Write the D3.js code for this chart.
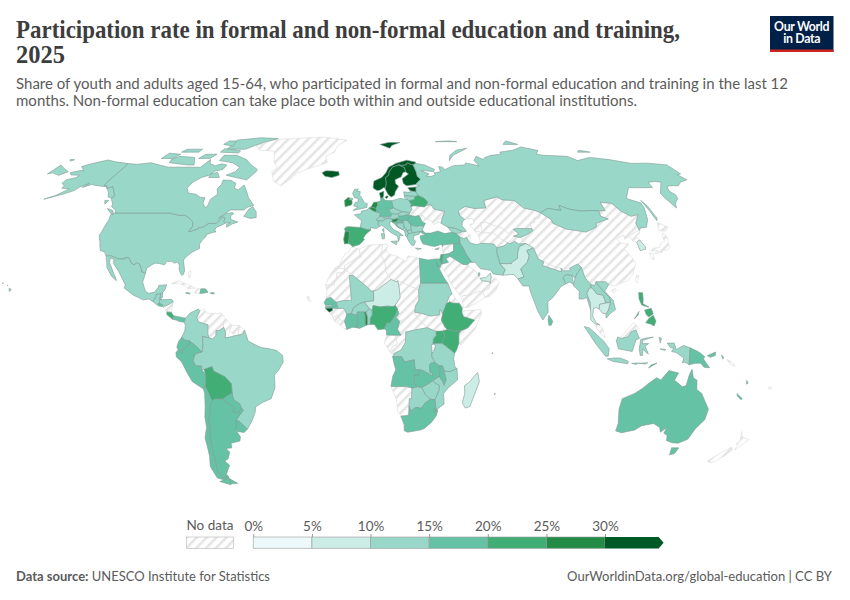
<!DOCTYPE html>
<html lang="en">
  <head>
    <meta charset="UTF-8" />
    <title>Participation rate in formal and non-formal education and training</title>
    <script src="https://cdn.jsdelivr.net/npm/d3@7"></script>
    <style>
      body { margin: 0; background: #fff; }
      text { font-family: Lato, sans-serif; }
    </style>
  </head>
  <body>
    <div id="chart"></div>
    <script>
      // countries with data, rate in % (colour bin only, so rough)
      const countries = ["Canada","United States","Mexico","Guatemala","Belize","Honduras","El Salvador","Costa Rica","Panama","Jamaica","Dominican Republic","Puerto Rico",
        "Colombia","Ecuador","Peru","Bolivia","Paraguay","Uruguay","Argentina","Chile","Brazil",
        "Egypt","Mali","Senegal","Guinea-Bissau","Cote d'Ivoire","Burkina Faso","Ghana","Togo","Benin","Niger","Nigeria","Cameroon","Sudan","Ethiopia","Kenya","Uganda","DR Congo","Angola","Zambia","Tanzania","Malawi","Mozambique","Zimbabwe","Botswana","South Africa","Eswatini","Madagascar","Seychelles","Mauritius",
        "Norway","Sweden","Finland","Denmark","Iceland","United Kingdom","Ireland","France","Spain","Portugal","Netherlands","Belgium","Germany","Switzerland","Austria","Italy","Poland","Czechia","Slovakia","Hungary","Slovenia","Croatia","Bosnia","Serbia","Montenegro","North Macedonia","Albania","Romania","Bulgaria","Greece","Belarus","Lithuania","Latvia","Estonia","Russia","Turkey","Cyprus",
        "Kyrgyzstan","Afghanistan","Pakistan","Iran","Iraq","Jordan","Israel","UAE","Qatar","Georgia","Mongolia","India","Bangladesh","Myanmar","Thailand","Laos","Vietnam","Cambodia","Indonesia","Philippines","South Korea","Sri Lanka","Australia","Papua New Guinea","Timor","Vanuatu","New Caledonia"];
      const rates = [12,12,12,14,12,13,17,22,17,17,17,17,
        13,17,17,22,17,17,17,17,12,
        17,12,17,32,17,12,17,27,12,8,22,17,12,22,22,22,12,17,17,12,17,12,12,12,17,17,8,12,12,
        32,32,32,32,32,12,27,12,22,27,27,27,17,12,12,13,12,12,12,17,27,17,13,13,13,13,12,17,12,13,20,13,13,32,12,17,12,
        12,12,8,12,17,17,22,8,12,12,12,12,12,12,8,12,12,8,12,22,8,17,17,17,20,17,17];

      // legend
      const binEdges = [5, 10, 15, 20, 25, 30];
      const binColors = ["#edf8fb", "#ccece6", "#99d8c9", "#66c2a4", "#41ae76", "#238b45", "#005824"];
      const tickValues = [0, 5, 10, 15, 20, 25, 30];

      // Robinson table, every 5 degrees of latitude
      const robLat = d3.range(0, 95, 5);
      const robX = [1,.9986,.9954,.99,.9822,.973,.96,.9427,.9216,.8962,.8679,.835,.7986,.7597,.7186,.6732,.6213,.5722,.5322];
      const robY = [0,.062,.124,.186,.248,.31,.372,.434,.4958,.5571,.6176,.6769,.7346,.7903,.8435,.8936,.9394,.9761,1];

      // outlines as lon,lat, a country can appear more than once
      const outlines = [
        ["Greenland","-73,78.3 -68,76 -58,75.5 -54,70 -51,68 -53,66 -50,62 -45,60 -42,62 -38,65.5 -30,68 -22,70 -24,73 -19,75 -18,78 -12,81.5 -30,83.5 -60,82 -66,81"],
        ["Cuba","-84.9,21.9 -82,23 -77,21.3 -74.2,20.2 -77.7,19.9 -78,20.7 -82,22"],
        ["Haiti","-74.4,18.4 -72,18.1 -71.7,19.9 -73.3,19.9"],
        ["Bahamas","-78,26.6 -77,26.5 -77.5,24 -78,24.5"],
        ["Nicaragua","-87.5,13 -85,14 -83.2,15 -83.7,11 -85.7,11.1"],
        ["Venezuela","-71.3,11.5 -69.8,12.2 -68,10.6 -64,10.5 -62,10.7 -60,8.5 -61,7 -60.7,5.2 -62.7,4 -64,4 -64,2 -65.5,0.8 -67,1.2 -67.5,2.8 -67.5,6.2 -71.8,7.3 -72.5,9"],
        ["Guyana","-60,8.5 -57.2,6 -58,4 -58.8,1.3 -60,1.3 -59.8,3 -60.7,5.2 -61,7"],
        ["Suriname","-57.2,6 -54,5.9 -54.3,2.3 -56,2 -58,4"],
        ["French Guiana","-54,5.9 -51.7,4.2 -52.5,2.5 -54.3,2.3"],
        ["Morocco","-5.9,35.8 -2.2,35.1 -1.7,33 -1.2,32.2 -3.6,31.5 -8.7,28.7 -8.7,27.7 -13.2,27.7 -11,29 -9.8,31.5 -8.5,33.3 -6.8,34"],
        ["Western Sahara","-13.2,27.7 -8.7,27.7 -8.7,26 -12,26 -12,23.5 -13,22.8 -13,21.3 -17,21.3 -16,23.5 -14.5,26"],
        ["Algeria","-2.2,35.1 2,36.6 8.6,36.9 8.3,35 7.5,33 9.5,30.2 9.7,26.5 11.9,23.5 5.8,19.5 4.2,19.1 3.2,19.1 1.2,20.8 -4.8,25 -8.7,27.3 -8.7,28.7 -3.6,31.5 -1.2,32.2 -1.7,33"],
        ["Tunisia","8.6,36.9 11,37 10.2,34.3 11.5,33.2 9.5,30.2 7.5,33 8.3,35"],
        ["Libya","11.5,33.2 15,32.3 19,30.3 20,32.5 25,31.6 25,22 24,19.5 15,23 14.2,22.6 11.9,23.5 9.7,26.5 9.5,30.2"],
        ["Mauritania","-17,21.3 -13,21.3 -13,22.8 -12,23.5 -12,26 -8.7,26 -8.7,27.3 -4.8,25 -6.5,25 -5.5,15.5 -9.4,15.4 -12.2,14.8 -14.5,16.6 -16.5,16.1 -16.2,19"],
        ["Gambia","-16.8,13.6 -14,13.7 -14,13.2 -16.7,13.1"],
        ["Guinea","-13.7,12.6 -11.4,12.4 -9,12.5 -8.2,11.5 -7.5,10.2 -8,8.5 -9.5,7.4 -10.5,8.3 -11.2,10 -13.3,9 -15,11 -13.7,11.7"],
        ["Sierra Leone","-13.3,9 -11.2,10 -10.5,8.3 -11.5,7 -12.8,7.5"],
        ["Liberia","-11.5,7 -10.5,8.3 -9.5,7.4 -8.5,7.6 -7.5,5 -7.5,4.4 -9,5"],
        ["Chad","15,23 24,19.5 24,15.7 22.5,13.5 22,11 19,9 15.5,7.5 13.9,9 15.2,10.5 14.1,13 13.6,13.7 15.8,16.5 15.5,20"],
        ["Central African Republic","15.5,7.5 19,9 22,11 23,9 27.4,5.1 22,4.2 18.6,3.5 16,2.2 14.5,4.5"],
        ["South Sudan","22,11 25,10.5 27,10 29,9.5 32.7,10 33,12 34.2,10.5 33.5,8 35,5.3 33.9,3.8 31,3.7 27.4,5.1 23,9"],
        ["Eritrea","38.6,18 43,12.6 41.5,14.4 38.5,14.5 37.3,15 37.3,17"],
        ["Somalia","43.2,11.5 51,12 51,10.5 48,4.5 42,-1.6 41,-0.9 41,2.8 41.9,3.9 44.9,5 47.9,8 43.2,9.3 42.7,11"],
        ["Rwanda","29,-1.5 30.5,-1 30.9,-2.3 29.2,-2.8"],
        ["Burundi","29.2,-2.8 30.9,-2.3 30,-4.4 29.4,-4.4"],
        ["Congo","11.2,-4 12,-5 13.1,-4.7 16,-3.5 17.9,-0.5 18.1,3.5 16,2.2 13.3,2.2 14.4,-1 12,-2.5"],
        ["Gabon","9.8,2.3 13.3,2.2 14.4,-1 12,-2.5 11.2,-4 8.8,-0.8"],
        ["Namibia","11.8,-17.3 14,-17.4 18.5,-17.4 21.4,-18 21,-18 21,-22 20,-22 20,-24.8 20,-28.4 17,-28.6 15,-27 14.4,-22.5"],
        ["Cape Verde","-25,17 -24,16.8 -23.4,15 -24,15"],
        ["Ukraine","22.2,48.4 22.7,49.1 24,50.5 23.5,51.5 25,51.9 30.5,51.4 31.5,52.1 34,52.2 35,50.5 40,49.6 38.3,47.2 35,46.2 33.6,46 36.5,45.4 33.5,44.5 32.5,46 30.7,46.5 30,46.4 29,48 27,48 24.9,47.7 22.9,48"],
        ["Moldova","27,48 28.2,45.5 30,46.4 29,48"],
        ["Kazakhstan","47,50 51,51.6 55,50.8 61,51 61.5,54 69,55.4 71,54.2 77,54 80,51 85,50 87.3,49.1 85.5,47 83,47 82.5,45.3 80,45 80,42.9 74,43 71,42.7 68,41 66,43 61,44.5 58.5,45.5 56,45 56,41.3 52.5,42 50.8,44.5 53,45 53,47 49,46.5 47,48"],
        ["Uzbekistan","56,45 58.5,45.5 61,44.5 66,43 68,41 71,42.7 73,40.8 71,40.3 68,38.3 66.5,37.4 64,38.9 61,41.2 56,41.3"],
        ["Turkmenistan","52.5,42 56,41.3 61,41.2 64,38.9 66.5,37.4 64.5,36.3 61,35.6 60,37 54,37.3 53.8,40"],
        ["Tajikistan","68,38.3 71,40.3 73,39.5 75,38.5 74.9,37.2 71.5,37 70,38 67.8,37.2"],
        ["Syria","36,36 36.7,36.7 42,37.2 41.3,37 41,34.4 38.8,33.4 36,33 35.8,35"],
        ["Saudi Arabia","34.9,29.5 35,29.4 38,30 37,31.5 39,32.3 44.5,29.2 46.5,29.1 48,28 50,26.5 50.8,24.7 52,23 55.2,22.7 55.7,22 55,20 52,19 49,18.6 46,17.3 43.3,17.4 42.7,16.5 39,21 37,25 35,28"],
        ["Yemen","42.7,16.5 43.3,17.4 46,17.3 49,18.6 52,19 53.1,16.7 48,14 45,12.8 43.3,12.7"],
        ["Oman","52,19 55,20 55.7,22 56.4,24.5 58.7,23.6 59.8,22.5 57.7,19 55,17 53.1,16.7"],
        ["Armenia","43.5,41.1 45,41.2 46.5,39 44.8,39.7"],
        ["Azerbaijan","45,41.2 46.5,41.8 48.5,41.9 50,40.3 49,37.5 48,39.5 46.5,39"],
        ["China","73.5,39.5 76,40.4 80,42 80,45 82.5,45.3 83,47 85.5,47 87.3,49.1 91,46.5 91,45 96,42.8 105,41.6 111,43.5 112,45 119,46.7 116,47.8 116.7,49.8 120,50 120.5,53.3 126,52.8 127.5,49.8 131,47.7 135,48.4 131,45 130.7,42.3 128,41.5 124.4,40 121.5,38.8 122,40.5 118,39 119,37.3 122.5,37 119.3,35 121.5,31.7 122,29.5 119.5,25.5 116.7,23 114,22.3 110.5,21 108,21.6 106.7,22.6 102.5,22.6 101.7,21.2 100,21.6 98,24 97.3,28 96,29.4 92,27.8 89,27.3 88.1,27.8 86,28 81,30.2 78.8,31.3 77.8,35.5 75,37"],
        ["China","108.7,19.3 110.5,20 111,19.5 109.5,18.2"],
        ["Nepal","80,28.8 81,30.2 86,28 88.1,27.8 88,26.4"],
        ["Malaysia","100.2,6.5 102,6.2 103.5,4 104.2,1.4 103,2 100.6,5"],
        ["Malaysia","109.6,1.5 111,1.5 114,4.5 116.7,7 119,5 117.6,4.2 115.5,3.5 114,1.5 111,1"],
        ["Taiwan","121,25 122,25 120.8,22 120.1,23"],
        ["North Korea","124.4,40 128,41.5 130.7,42.3 129.8,41 127.5,39.8 128.3,38.6 126.5,37.7 125,38"],
        ["Japan","131,34.3 133,35.5 136,35.7 137,37 139.5,38 140,40 141,41.3 142,39.5 141,38 140.8,35.8 138.8,34.8 136.8,34.5 135.5,33.6 134,34.5"],
        ["Japan","140,42 141.5,45.4 145.3,43.5 143,42"],
        ["Japan","130,33.5 131.8,33.5 131,31 130.2,31.3"],
        ["Japan","132.5,33.5 134.3,34.3 134,33.3"],
        ["New Zealand","172.7,-34.5 174.8,-36.8 178.4,-37.6 177,-39.5 175.3,-41.6 174.8,-39.8 173.8,-39.3 174.8,-38"],
        ["New Zealand","172.7,-40.5 174.2,-41.5 172.8,-43.8 171,-45 170.7,-46 168.5,-46.6 166.5,-46 168.3,-44"],
        ["Solomon Islands","157,-7 159.5,-8 161,-9.6 159,-9"],
        ["Fiji","177.3,-17.5 178.6,-17.7 178.3,-18.3 177.3,-18.2"],
        ["Lesotho","27,-29.6 29.2,-29 29.4,-29.9 28,-30.6"],

        ["United States","-124.7,48.4 -123,49 -95.2,49 -94.6,48.7 -92,48.3 -89.5,48 -88.4,48.3 -84.9,46.9 -84.5,46.5 -83.5,46 -82.5,45.3 -82.1,43.6 -82.5,42.6 -83.1,42.1 -82.7,41.7 -79,42.8 -79,43.3 -76.8,43.6 -75,44.9 -71.5,45 -70.8,45.4 -70,46.7 -69.2,47.4 -68.3,47.3 -67.8,47 -67.8,45.7 -67,44.9 -69,44 -70.3,43.6 -70.8,42.8 -70.7,42 -70,41.7 -71.5,41.4 -74,40.7 -74.2,39.6 -75.2,38.7 -75.9,37.2 -76,36.8 -75.5,35.3 -77,34.6 -78.5,33.9 -79.9,32.7 -81.2,31.6 -81.4,30.5 -80.6,28.5 -80,26.8 -80.3,25.4 -81,25.1 -81.8,26 -82.7,27.7 -82.8,29 -84,30.1 -85.3,29.7 -86.5,30.4 -89,30.4 -89.4,29.2 -90.5,29.2 -92,29.6 -93.8,29.7 -95,29.2 -97.2,27.8 -97.2,25.9 -99.1,26.4 -99.5,27.5 -101,29.5 -102.5,29.8 -103,29 -104.5,29.6 -106.5,31.8 -108.2,31.8 -108.2,31.3 -111,31.3 -114.8,32.5 -117.1,32.5 -118.4,34 -120.6,34.5 -121.9,36.6 -122.5,37.8 -123.8,39.5 -124.3,40.4 -124.1,42 -124.1,44 -124,46.3"],
        ["United States","-141,69.6 -141,60.3 -139,60 -137.5,58.9 -135.5,59.7 -133.5,58.4 -130,55.9 -130.5,54.9 -133,55.5 -134.5,57 -136,58 -139,59.6 -144,60 -148,60.5 -151.5,59.3 -150,61 -153,59.5 -154,58 -158,56.5 -163,55 -165,54.5 -161,56 -157.5,58.7 -162,59 -162,60 -165,61 -165,62.5 -161,63.5 -161,64.5 -166,64.6 -168,65.6 -164,66.5 -162,66.5 -166.5,68.3 -163,69.5 -156.5,71.3 -150,70.4"],
        ["United States","-156,20.2 -155,19.6 -155.7,18.9 -156,19.5"],
        ["United States","-157.3,21.2 -156.9,21.2 -157,21"],
        ["United States","-159.7,22.2 -159.3,22.2 -159.4,21.9"],
        ["Canada","-141,69.6 -135,69.3 -128,70 -125,69.5 -115,68 -108,68 -102,68 -96,68 -94,71.5 -92,69.5 -88,68.7 -85,69.5 -81.5,69 -82,67 -86,66.3 -87.5,64.5 -91,63.5 -94,61.5 -94.8,59 -92.5,57 -88,56.5 -85,55.3 -82.3,55.1 -82,53 -80,51.3 -79,51.5 -79,54.5 -76.8,56.5 -78.5,58.7 -77.5,60.5 -78,62.4 -73.5,62.3 -70,61 -69.5,59 -67,58.3 -65,60.3 -62,57.5 -60,55.3 -57,53 -55.7,52 -58.5,51.3 -60,50.2 -66.5,50.2 -69,48.5 -71,46.9 -68,48.8 -65,49.2 -64.3,48.7 -65.5,48 -64.8,46.5 -63,46 -61,45.5 -63.5,44.7 -65.7,43.5 -66,44.5 -64.5,45.3 -67,45 -67.8,45.7 -67.8,47 -68.3,47.3 -69.2,47.4 -70,46.7 -70.8,45.4 -71.5,45 -75,44.9 -76.8,43.6 -79,43.3 -79,42.8 -82.7,41.7 -83.1,42.1 -82.5,42.6 -82.1,43.6 -82.5,45.3 -83.5,46 -84.5,46.5 -84.9,46.9 -88.4,48.3 -89.5,48 -92,48.3 -94.6,48.7 -95.2,49 -123,49 -123.5,50 -127,51.5 -128,53 -130,54.3 -130.5,54.9 -130,55.9 -133.5,58.4 -135.5,59.7 -137.5,58.9 -139,60 -141,60.3"],
        ["Canada","-62,66 -65,62.5 -72,63.5 -78,64.5 -74,66 -73,68 -79,70 -88,71 -88,73.5 -80,73.5 -72,71.5 -67,69 -62,67"],
        ["Canada","-117,70 -105,69 -101,69 -105,72.5 -115,73 -118,71.5"],
        ["Canada","-125,72 -118,72 -116,74 -124,74.5"],
        ["Canada","-90,76.5 -78,76.5 -70,80 -62,82.5 -75,83 -90,81.5"],
        ["Canada","-92,75 -80,74.6 -80,75.7 -92,76.8"],
        ["Canada","-96,79 -88,78 -90,81 -95,81"],
        ["Canada","-117,75 -106,75 -106,76.5 -116,76.5"],
        ["Canada","-102,72 -95,72 -93,74 -100,74"],
        ["Canada","-87,63.5 -81,63.5 -84,65.8 -87,65"],
        ["Canada","-59,47.7 -55.5,46.9 -52.7,47.2 -53.5,49.5 -56,51.5 -57.5,50.5"],
        ["Canada","-128.5,50.8 -125,50 -123.4,48.4 -125,48.8"],
        ["Canada","-133,54 -131,54 -131.5,52.5"],
        ["Mexico","-117.1,32.5 -114.8,32.5 -111,31.3 -108.2,31.3 -108.2,31.8 -106.5,31.8 -104.5,29.6 -103,29 -102.5,29.8 -101,29.5 -99.5,27.5 -99.1,26.4 -97.2,25.9 -97.8,22.5 -96,19 -94.5,18.2 -92,18.6 -90.5,20.5 -90.5,21.2 -87,21.5 -87.5,19.5 -88.3,18.5 -89.1,17.9 -91,17.8 -91,17.2 -92,15 -94,16 -96.5,15.7 -101,17.5 -105.5,20.2 -105.3,21.5 -108,25 -109.5,26.7 -112.5,29.5 -113,31.2 -114.8,31.7 -114.5,30 -111.5,26 -110,24 -109.5,23 -112,24.7 -115,28 -116,30.5"],
        ["Guatemala","-92,15 -91,17.2 -91,17.8 -89.1,17.9 -89.2,15.9 -88.2,15.7 -89.3,14.4 -90.5,13.9"],
        ["Belize","-89.1,17.9 -88.3,18.5 -88.2,16.5 -89.2,15.9"],
        ["Honduras","-89.2,15.9 -88.2,15.7 -84,15.9 -83.2,15 -85,14 -87.3,13 -89.3,14.4"],
        ["El Salvador","-90.1,13.8 -89.3,14.4 -87.7,13.8 -87.8,13.2 -89.5,13.4"],
        ["Costa Rica","-85.7,11.1 -83.7,11 -82.6,9.6 -83,8.3 -85.5,10"],
        ["Panama","-83,8.3 -82.6,9.6 -80,9.2 -77.4,8.7 -77.9,7.2 -80,7.4 -81,7.9"],
        ["Jamaica","-78.3,18.3 -76.3,17.9 -76.3,18.2 -77.5,18.5"],
        ["Dominican Republic","-71.7,19.9 -72,18.1 -70,18.3 -68.4,18.6 -69.7,19.9"],
        ["Puerto Rico","-67.2,18 -65.7,18 -65.7,18.4 -67.2,18.5"],
        ["Colombia","-77.4,8.7 -75.5,10.7 -72,12.2 -71.3,11.5 -72.5,9 -71.8,7.3 -67.5,6.2 -67.5,2.8 -67,1.2 -69.8,1.7 -69.5,-1 -70,-4.2 -70.7,-3.8 -72,-2.4 -75.2,-0.1 -77.5,0.4 -78.8,1.4 -77.5,3.8 -77.3,6 -77.9,7.2"],
        ["Ecuador","-78.8,1.4 -77.5,0.4 -75.2,-0.1 -75.5,-1.5 -78.3,-3.4 -78.5,-4.7 -80.3,-3.4 -80.9,-2.3 -80,0"],
        ["Peru","-80.3,-3.4 -78.5,-4.7 -78.3,-3.4 -75.5,-1.5 -75.2,-0.1 -72,-2.4 -70.7,-3.8 -70,-4.2 -73,-5 -74,-7.5 -73,-9.3 -70.5,-9.5 -70.5,-11 -69,-12.5 -69,-15 -69.5,-17.5 -70.4,-18.3 -75,-15.5 -77,-12 -79,-8 -81.3,-6 -81.3,-4.3"],
        ["Brazil","-60.7,5.2 -62.7,4 -64,4 -64,2 -65.5,0.8 -67,1.2 -69.8,1.7 -69.5,-1 -70,-4.2 -73,-5 -74,-7.5 -73,-9.3 -70.5,-9.5 -70.5,-11 -69.5,-10.9 -66,-9.8 -65.3,-11.5 -60.5,-13.7 -58,-16.3 -58,-19.8 -57.7,-22.3 -55,-24 -54.6,-25.6 -53.7,-26.3 -57.6,-30.2 -56,-30.8 -53.2,-33.7 -50.5,-30.5 -48.5,-27 -48.2,-25.2 -45,-23.5 -41,-22 -39,-17.8 -39,-13 -37,-11 -35,-8 -35.2,-5.5 -38,-3.5 -41.5,-2.9 -44.5,-2.5 -48,-1 -50,0 -51.7,4.2 -52.5,2.5 -54.3,2.3 -56,2 -58.8,1.3 -60,1.3 -59.8,3"],
        ["Bolivia","-69.5,-10.9 -66,-9.8 -65.3,-11.5 -60.5,-13.7 -58,-16.3 -58,-19.8 -62.6,-22.2 -65.8,-22.1 -67.2,-22.8 -68.7,-19 -69.5,-17.5 -69,-15 -69,-12.5"],
        ["Paraguay","-62.6,-22.2 -58,-19.8 -57.7,-22.3 -55,-24 -54.6,-25.6 -56,-27.3 -58.6,-27.2 -57.6,-25.3 -60,-24"],
        ["Uruguay","-58.4,-33.5 -57.6,-30.2 -56,-30.8 -53.2,-33.7 -54.9,-34.9 -58,-34.5"],
        ["Argentina","-65.8,-22.1 -62.6,-22.2 -60,-24 -57.6,-25.3 -58.6,-27.2 -56,-27.3 -54.6,-25.6 -53.7,-26.3 -57.6,-30.2 -58.4,-33.5 -58.4,-34.2 -57,-36.5 -57.7,-38.2 -62,-39 -62.2,-40.8 -65,-41 -63.8,-42.5 -65.5,-45 -67.5,-46 -65.8,-47.5 -69,-51 -68.4,-52.3 -71.9,-52 -72.3,-50.5 -73,-50 -71.8,-45 -71.7,-42 -71.2,-38 -70,-33 -70,-30 -68.5,-27 -68.3,-24.5 -67.2,-22.8"],
        ["Argentina","-68.6,-52.7 -68.6,-54.9 -65.2,-54.7"],
        ["Chile","-70.4,-18.3 -69.5,-17.5 -68.7,-19 -67.2,-22.8 -68.3,-24.5 -68.5,-27 -70,-30 -70,-33 -71.2,-38 -71.7,-42 -71.8,-45 -73,-50 -72.3,-50.5 -71.9,-52 -68.4,-52.3 -71,-53.5 -74.5,-52.5 -75.5,-48 -74,-44 -73.5,-40 -73.5,-37 -71.6,-33 -71.4,-29 -70.5,-25 -70.1,-20"],
        ["Chile","-68.6,-52.7 -70,-53 -74,-54 -69,-55.3 -68.6,-54.9"],
        ["Egypt","25,31.6 29,30.9 32.3,31.3 34.2,31.3 34.9,29.5 34,27.8 33.2,28.5 32.5,30 33.6,27.8 35.5,24 37,22 25,22"],
        ["Mali","-4.8,25 1.2,20.8 3.2,19.1 4.2,19.1 4.2,15.3 0.2,14.9 -2,14.2 -4.5,12.8 -5.5,10.4 -7.5,10.2 -8.2,11.5 -9,12.5 -11.4,12.4 -12.2,14.8 -9.4,15.4 -5.5,15.5 -6.5,25"],
        ["Senegal","-16.5,16.1 -14.5,16.6 -12.2,14.8 -11.4,12.4 -13.7,12.6 -16.7,12.4 -16.8,13.1 -14,13.2 -14,13.7 -16.8,13.6 -17.4,14.7"],
        ["Guinea-Bissau","-16.7,12.4 -13.7,12.6 -13.7,11.7 -15,11 -16.2,11.8"],
        ["Cote d'Ivoire","-7.5,4.4 -7.5,5 -8.5,7.6 -8,8.5 -7.5,10.2 -5.5,10.4 -3,9.9 -2.7,8 -3.2,5.1 -5,5.2"],
        ["Burkina Faso","-5.5,10.4 -4.5,12.8 -2,14.2 0.2,14.9 2.3,12.4 0.9,11 -2.9,11 -3,9.9"],
        ["Ghana","-3,11 0,11.1 0.5,10 0.6,6.2 1.2,6.1 -2,4.8 -3.2,5.1 -2.7,8"],
        ["Togo","0,11.1 0.9,11 1.6,9 1.6,6.2 1.2,6.1 0.6,6.2 0.5,10"],
        ["Benin","0.9,11 2.4,12.3 3.6,11.7 3.6,10 2.7,8.5 2.7,6.3 1.6,6.2 1.6,9"],
        ["Niger","0.2,14.9 4.2,15.3 4.2,19.1 5.8,19.5 11.9,23.5 14.2,22.6 15,23 15.5,20 15.8,16.5 13.6,13.7 13,13.1 10,13.3 7,13 4,13.5 3.6,11.7 2.4,12.3"],
        ["Nigeria","2.7,6.3 2.7,8.5 3.6,10 3.6,11.7 4,13.5 7,13 10,13.3 13,13.1 13.6,13.7 14.5,12 14.2,11 12.8,8.7 11.2,6.8 10,7 8.8,4.6 6,4.3 4.5,6.3"],
        ["Cameroon","8.8,4.6 10,7 11.2,6.8 12.8,8.7 14.2,11 14.5,12 14.1,13 15.2,10.5 13.9,9 15.5,7.5 14.5,4.5 16,2.2 13.3,2.2 9.8,2.3 9.7,4"],
        ["Sudan","24,19.5 25,22 37,22 38.6,18 37.3,17 36,14.3 34.2,10.5 33,12 32.7,10 29,9.5 27,10 25,10.5 22,11 22.5,13.5 24,15.7"],
        ["Ethiopia","36,14.3 37.3,15 38.5,14.5 41.5,14.4 42.8,12.5 42.5,11 43.2,9.3 47.9,8 44.9,5 41.9,3.9 39.8,3.7 36,4.4 35,5.3 33.5,8 34.2,10.5"],
        ["Kenya","33.9,3.8 36,4.4 39.8,3.7 41.9,3.9 41,2.8 41,-0.9 40,-3.5 39.2,-4.7 33.9,-1 34,0.5 35,1.8"],
        ["Uganda","31,3.7 33.9,3.8 35,1.8 34,0.5 33.9,-1 30.5,-1 29.7,-1.3 30,1 31.2,2.2"],
        ["DR Congo","12.4,-6 13.1,-4.7 16,-3.5 17.9,-0.5 18.1,3.5 18.6,3.5 22,4.2 27.4,5.1 31,3.7 31.2,2.2 30,1 29.7,-1.3 29,-1.5 29.2,-2.8 29.4,-4.4 29.4,-6 30.8,-8.2 28.9,-8.5 28.4,-9.3 28.7,-12 29.8,-12.2 29.8,-13.4 27.5,-12.2 25.5,-11.2 24,-11 22.3,-11 22,-9.6 21.8,-7.2 17.6,-8 16.3,-6"],
        ["Angola","12.4,-6 13,-8.5 13.8,-11 12.5,-13.5 11.8,-17.3 14,-17.4 18.5,-17.4 21.4,-18 23.3,-17.5 22,-16 22,-13 24,-13 24,-11 22.3,-11 22,-9.6 21.8,-7.2 17.6,-8 16.3,-6"],
        ["Zambia","22,-13 24,-13 24,-11 25.5,-11.2 27.5,-12.2 29.8,-13.4 29.8,-12.2 28.7,-12 28.4,-9.3 28.9,-8.5 30.8,-8.2 33,-9.5 33.2,-11 32.8,-13.6 30.2,-15 28.8,-16 25.3,-17.8 23.3,-17.5 22,-16"],
        ["Tanzania","30.5,-1 33.9,-1 39.2,-4.7 38.8,-6.5 39.5,-10 40.4,-10.5 37.5,-11.7 34.9,-11.5 34,-9.5 33,-9.5 30.8,-8.2 29.4,-6 29.4,-4.4 30,-4.4 30.9,-2.3"],
        ["Malawi","33,-9.5 34,-9.5 34.9,-11.5 35.9,-15 35,-17 34.3,-15.5 32.8,-13.6 33.2,-11"],
        ["Mozambique","34.9,-11.5 35.9,-15 35,-17 34.3,-15.5 32.8,-13.6 30.2,-15 30.3,-15.6 33,-17 32.8,-19 31.3,-22.4 32,-25.7 32,-26 32.8,-26.8 32.6,-26 35.5,-24 35,-20 37,-17.8 40.8,-14.8 40.4,-10.5 37.5,-11.7"],
        ["Zimbabwe","25.3,-17.8 28.8,-16 30.2,-15 30.3,-15.6 33,-17 32.8,-19 31.3,-22.4 29.4,-22.2 27,-20.5"],
        ["Botswana","21,-18 21.4,-18 23.3,-17.5 25.3,-17.8 27,-20.5 29.4,-22.2 27,-23.7 25.5,-25.7 23,-25.3 20.8,-26.8 20,-24.8 20,-22 21,-22"],
        ["South Africa","16.5,-28.6 17,-28.6 20,-28.4 20,-24.8 20.8,-26.8 23,-25.3 25.5,-25.7 27,-23.7 29.4,-22.2 31.3,-22.4 32,-25.7 32.8,-26.8 32.4,-28.5 30.5,-31 27.5,-33.4 25.6,-34 20,-34.8 18.4,-34.2 18.2,-32"],
        ["Eswatini","31,-25.9 32,-26 31.9,-27.3 30.9,-26.9"],
        ["Madagascar","49.4,-12 50.4,-15.5 49.5,-18 47,-25 45,-25.6 43.5,-23.5 44.3,-20 44,-17 46,-15.7 48,-13.5"],
        ["Seychelles","55.3,-4.5 55.7,-4.5 55.5,-4.9"],
        ["Mauritius","57.3,-20 57.8,-20 57.5,-20.5"],
        ["Norway","5,59 7,58 8.5,58.2 10.7,59.3 11.5,59 12.2,61 12.1,63.5 14,64.5 14.5,66 17,68.2 18.8,68.5 20.5,69 22.5,68.8 25,69 26,69.9 28.5,69 31,69.7 31,70.3 26,71.2 22,70.3 19,69.7 14.5,68 12.5,65.5 10,63.5 5.5,62 5,60"],
        ["Norway","11,79 17,77 19,78.5 25,80 17,80"],
        ["Sweden","11.2,59 12.7,56.3 14.2,55.4 16,56.2 16.5,57.5 18.7,59.8 17.2,61 17.2,62.5 20.9,63.8 22.5,65.8 24,65.9 23.7,67.9 20.5,69 18.8,68.5 17,68.2 14.5,66 14,64.5 12.1,63.5 12.2,61 11.5,59"],
        ["Finland","24,65.9 25.3,65 21.3,63 21.5,61 23,60 28,60.5 31.5,62.8 30,64 30,66 29.2,69 28.5,69 26,69.9 25,69 22.5,68.8 20.5,69 23.7,67.9"],
        ["Denmark","8.1,57 10.5,57.7 10.2,56 9.8,55 8.6,54.9"],
        ["Denmark","12,55.9 12.6,55.6 11.8,54.7 10.8,55.3"],
        ["Iceland","-24,65.5 -22,64 -18,63.5 -14,64.5 -14.5,66 -18,66.3 -22,66.4"],
        ["United Kingdom","-5.5,50 1.4,51.2 1.7,52.7 0.3,53 -1.6,55.5 -2.2,56 -2,57.6 -3.8,57.7 -3,58.6 -5,58.6 -6,56.8 -4.8,55 -3,54.9 -3,53.4 -4.5,53.2 -5.2,51.8 -3,51.4"],
        ["United Kingdom","-7.3,55 -5.6,54.7 -6.2,54.1 -7.8,54.3"],
        ["Ireland","-10,54 -8.2,55.2 -7.3,55 -7.8,54.3 -6.2,54.1 -6,53 -6.4,52.2 -9.5,51.5"],
        ["France","-1.8,43.4 -1.2,46 -4.7,48.3 -1.5,48.7 -1.3,49.7 1.5,50.2 2.5,51 4.2,50 5.8,49.5 8.2,49 7.6,47.6 6,46.2 7,45.9 6.8,44.5 7.5,43.8 6,43 3,43.3 3.2,42.4 0.7,42.7"],
        ["France","8.6,42.5 9.5,43 9.4,41.4"],
        ["Spain","-9.3,43 -8,43.7 -1.8,43.4 0.7,42.7 3.2,42.4 0.8,40.7 -0.3,39.3 0.2,38.7 -2,36.8 -5.3,36 -6.5,37 -7.4,37.2 -7,39 -7,41.9 -8.9,41.9"],
        ["Portugal","-8.9,41.9 -7,41.9 -7,39 -7.4,37.2 -9,37 -9.5,38.8"],
        ["Netherlands","3.5,51.4 6,50.8 7,52.2 7,53.4 5,53.3 4,52"],
        ["Belgium","2.5,51 3.5,51.4 6,50.8 6.4,50.3 5.8,49.5 4.2,50"],
        ["Germany","6,50.8 7,52.2 7,53.4 8.6,53.9 8.6,54.9 9.8,55 11,54 14.2,53.9 14.8,51 12.2,50.3 13.8,48.7 13,47.5 9.6,47.5 7.6,47.6 8.2,49 5.8,49.5 6.4,50.3"],
        ["Switzerland","6,46.2 7.6,47.6 9.6,47.5 10.4,46.6 9,45.9 7,45.9"],
        ["Austria","9.6,47.5 13,47.5 13.8,48.7 17,48.7 17.1,47.7 16.2,46.8 13.7,46.5 12.3,47 10.4,46.6"],
        ["Italy","7,45.9 9,45.9 10.4,46.6 12.3,47 13.7,46.5 13.7,45.7 12.3,45.3 12.5,44.2 14,42.5 16,41.8 18.5,40.2 16.9,40.4 16.6,39 16,38 15.7,40 12.5,41.5 10.5,43 8.5,44.3 7.5,43.8 6.8,44.5"],
        ["Italy","12.5,38 15.5,38.2 15,36.7"],
        ["Italy","8.2,41 9.7,41 9.5,39 8.5,39"],
        ["Poland","14.2,53.9 18.5,54.8 23,54.3 23,54 24,52.5 23.5,51.5 24,50.5 22.7,49.1 18.8,49.5 16.5,50.3 14.8,51"],
        ["Czechia","12.2,50.3 14.8,51 16.5,50.3 18.8,49.5 17,48.7 13.8,48.7"],
        ["Slovakia","17,48.7 18.8,49.5 22.7,49.1 22,48.4 18.8,47.8 17.1,47.7"],
        ["Hungary","16.2,46.8 17.1,47.7 18.8,47.8 22,48.4 22.9,48 21,46.2 18.8,45.9 16.6,46.4"],
        ["Slovenia","13.7,46.5 16.2,46.8 16.6,46.4 15.4,45.5 13.7,45.5"],
        ["Croatia","13.6,45.3 15.4,45.5 16.6,46.4 18.8,45.9 19,45 16,45.1 15.8,44 18.4,42.5 16,43.5 14.5,45"],
        ["Bosnia","16,45.1 19,45 19.3,43.5 18.4,42.5 15.8,44"],
        ["Serbia","18.8,45.9 21,46.2 22.5,44.3 22.5,42.4 20.5,42.2 19.3,43.5 19,45"],
        ["Montenegro","18.4,42.5 19.3,43.5 20.3,42.8 19.3,41.9"],
        ["North Macedonia","20.5,42.2 22.5,42.4 23,41.3 20.9,40.9"],
        ["Albania","19.3,41.9 20.5,42.2 20.9,40.9 20,39.7 19.4,40.4"],
        ["Romania","21,46.2 22.9,48 24.9,47.7 27,48 28.2,45.5 29.6,45 28.6,43.7 27,44.1 25,43.7 22.5,44.3"],
        ["Bulgaria","22.5,44.3 25,43.7 27,44.1 28.6,43.7 27.7,42.5 28,42 26.3,41.7 23,41.3 22.5,42.4"],
        ["Greece","20,39.7 20.9,40.9 23,41.3 26.3,41.7 26,40.8 23.5,40.2 23,39 24,38 23,36.5 22,36.5 21,37.8"],
        ["Greece","23.6,35.5 26.3,35.2 24.5,34.9"],
        ["Belarus","23.5,51.5 24,52.5 23,54 25.5,54.3 26.6,55.7 28.2,56.1 31,55 32.7,53.4 31.5,52.1 30.5,51.4 25,51.9"],
        ["Lithuania","21,56 26.6,55.7 25.5,54.3 23,54 21,55.2"],
        ["Latvia","21,57.5 24.3,57.2 24.4,58 27.5,57.5 28.2,56.1 26.6,55.7 21,56"],
        ["Estonia","23.5,59.2 28,59.5 27.5,57.5 24.4,58"],
        ["Russia","28,59.5 30,60 28,60.5 31.5,62.8 30,64 30,66 29.2,69 31,69.7 36,69 41,67 40,66 35,66.5 33,66.5 37,65 35,64 38,64 40.5,64.7 40,65.5 44,66 44,68.3 46,68 47,67 53,68.7 60,69 61,69.9 66,69 68,68.5 67,71 70,73 73,71.5 75,72.5 80,73.5 87,74 87,75 97,76 105,77.7 113,75.8 109,74 113,73.5 127,73 130,71 140,72.5 150,71.5 160,69.7 170,69.8 180,69 180,65 177.5,64.7 179,62.5 174,61.6 170,60 166,60 163.5,59.8 161.8,57.8 163,56.2 162,54.8 158.5,52.9 156.7,51 155.6,55 156,57 159,59 163,61.5 160,61.8 156,61.5 155,59.3 151,59.2 142,59.2 135.5,54.8 141,53 140.5,51 138,46.5 135,43.5 132,43.2 130.7,42.3 131,45 135,48.4 131,47.7 127.5,49.8 126,52.8 120.5,53.3 120,50 116.7,49.8 113,50 108,49.7 102.5,50.5 98.5,52 98,50 92,50.8 87.3,49.1 85,50 80,51 77,54 71,54.2 69,55.4 61.5,54 61,51 55,50.8 51,51.6 47,50 47,48 49,46.5 47.5,45.5 47,44 47.8,43 48.5,41.9 46.5,41.8 43.5,43 40,43.5 37,45 38.3,47.2 40,49.6 35,50.5 34,52.2 31.5,52.1 32.7,53.4 31,55 28.2,56.1 27.5,57.5"],
        ["Russia","-180,69 -176,67.7 -170,66 -172.5,64.4 -178,65.5 -180,65"],
        ["Russia","-180,71.5 -177,71.4 -178.5,70.8"],
        ["Russia","142,54 143,52 143,47 142,46 142,50"],
        ["Russia","52,71 56,73.5 68,77 60,76 54,73.5"],
        ["Russia","95,79 105,79 100,81"],
        ["Russia","137,75 145,75 140,76"],
        ["Russia","50,80.5 60,81 65,80.5"],
        ["Turkey","26.3,41.7 28,42 29,41.2 31.5,41.2 35,42 38,41 41.5,41.5 43.5,41.1 44.8,39.7 44.5,37.2 42,37.2 36.7,36.7 36,36 36,36.9 32.5,36.1 30.5,36.3 29,36.7 27.3,37 26.5,38.5 26.2,40 27.5,40.4 29,40.5"],
        ["Cyprus","32.5,35 34.5,35.6 33.9,34.9"],
        ["Kyrgyzstan","71,42.7 74,43 80,42.9 80,42 76,40.4 73,39.5 70,40 71,40.3 73,40.8"],
        ["Afghanistan","61,35.6 64.5,36.3 66.5,37.4 67.8,37.2 70,38 71.5,37 74.9,37.2 71.5,36 70,33.5 69.5,31.5 66.5,30 66.3,29.5 61,29.5 60.9,31.5 60.5,33.5"],
        ["Pakistan","61,29.5 66.3,29.5 66.5,30 69.5,31.5 70,33.5 71.5,36 74.9,37.2 77.8,35.5 74.5,34.5 75,32.5 73.5,30 70,27.5 71,24.4 68.2,23.7 66.5,25.4 61.6,25.1 63,27.2"],
        ["Iran","44.8,39.7 46.5,39 48,39.5 49,37.5 52,36.7 54,37.3 60,37 61,35.6 60.5,33.5 60.9,31.5 61,29.5 63,27.2 61.6,25.1 57.5,25.6 56.5,27 52,27.6 50,30 48.5,30 46.5,33 45.5,35.5 44.5,37.2"],
        ["Iraq","44.5,37.2 45.5,35.5 46.5,33 48.5,30 47.7,30 46.5,29.1 44.5,29.2 39,32.3 38.8,33.4 41,34.4 41.3,37 42,37.2"],
        ["Jordan","36,33 38.8,33.4 39,32.3 37,31.5 38,30 35,29.4 35.5,31.5"],
        ["Israel","34.3,31.3 35,33 36,33 35.5,31.5 35,29.4 34.9,29.5"],
        ["UAE","51.6,24 54,24.2 56.2,25.9 56.4,24.5 55.7,22 55.2,22.7 52,23"],
        ["Qatar","50.8,24.7 51.5,25 51.5,26 51,26"],
        ["Georgia","40,43.5 43.5,43 46.5,41.8 45,41.2 43.5,41.1 41.5,41.5"],
        ["Mongolia","87.3,49.1 92,50.8 98,50 98.5,52 102.5,50.5 108,49.7 113,50 116.7,49.8 116,47.8 119,46.7 112,45 111,43.5 105,41.6 96,42.8 91,45 91,46.5"],
        ["India","68.2,23.7 71,24.4 70,27.5 73.5,30 75,32.5 74.5,34.5 77.8,35.5 78.8,31.3 81,30.2 80,28.8 88,26.4 88.1,27.8 89,26.8 92,26.8 92,27.8 96,29.4 97.3,28 95,26 93.5,24 92.4,25 89.8,25.3 88.3,24.3 89,21.8 86.8,20.8 82.5,16.5 80.2,15 80,11 77.5,8 75.5,11.5 73,19 72.7,21 70,21 69,22.4"],
        ["Bangladesh","88.3,24.3 89.8,25.3 92.4,25 92.5,21.5 91,22.5 89,21.8"],
        ["Myanmar","92.4,21 93.5,24 95,26 97.3,28 98,24 100,21.6 100,20.4 99,20 97.7,18 98.7,14.8 99,10.5 98,14 97.5,16.5 95.5,16 94,16 94.5,19"],
        ["Thailand","97.7,18 99,20 100,20.4 101,19.5 102,18 104.7,17.5 105.5,14.5 102.7,14 102.3,12.2 101,12.7 99.9,12.5 99.2,9.5 100.5,7 102,6.2 100.2,6.5 98.3,8 98.7,14.8"],
        ["Laos","100,21.6 101.7,21.2 102.5,22.6 105,19 107.5,16.5 107.5,14.7 105.5,14.5 104.7,17.5 102,18 101,19.5 100,20.4"],
        ["Vietnam","102.5,22.6 106.7,22.6 108,21.6 105.7,19 108.8,15.5 109.4,12 106.8,10.4 105,8.7 105,10.4 106.2,11.7 107.5,14.7 107.5,16.5 105,19"],
        ["Cambodia","102.3,12.2 102.7,14 105.5,14.5 107.5,14.7 106.2,11.7 105,10.4 103.5,10.6"],
        ["Indonesia","109,0 109.6,1.5 111,1 114,1.5 115.5,3.5 117.6,4.2 119,1 117.5,0.5 116,-4 110,-3"],
        ["Indonesia","95.3,5.5 97.5,5 103.5,0 106,-3 105.7,-5.8 104.5,-5.8 100.5,-1.5 97.5,2.5"],
        ["Indonesia","105.3,-6.8 108.5,-6.5 111,-6.5 114.5,-7.7 114.4,-8.7 108,-7.8"],
        ["Indonesia","119.5,0.5 121,1 125,1.5 120.5,0.3 120.2,-1 123,-1 121.5,-2 123,-5 121.5,-4 120.5,-3 120.5,-5.5 119.5,-5.5 119,-3"],
        ["Indonesia","119,-8.5 123,-8.3 122,-8.8"],
        ["Indonesia","116,-8.5 119,-8.4 118,-9"],
        ["Indonesia","127.5,1.5 128.5,1 128,-0.8"],
        ["Indonesia","128,-3 130.5,-3.2 130,-3.6"],
        ["Indonesia","131,-0.8 134,-0.8 135,-3.3 138,-1.7 141,-2.6 141,-9.1 139,-8 138,-8.4 138.5,-6.5 135,-4.4 133,-4 134,-2.6 132.5,-2.6"],
        ["Timor","123.5,-10.3 127,-8.4 124.5,-9.2"],
        ["Papua New Guinea","141,-2.6 145,-4.3 147.5,-6 147,-6.8 148,-8 150,-10.2 147.5,-10 146,-8.5 143.5,-8.5 141,-9.1"],
        ["Papua New Guinea","148.5,-5.6 152,-4.2 152,-5.5 150,-6.2"],
        ["Papua New Guinea","154.7,-5.3 155.8,-6.5 155.3,-6.8"],
        ["Vanuatu","167,-15 167.8,-16 167.3,-16.5"],
        ["New Caledonia","164,-20 167,-22 166.5,-22.4 164.5,-21"],
        ["Philippines","120.5,18.5 122.2,18.4 122,16 121.6,14.2 124,13 123.5,13 121,13.7 120.2,16"],
        ["Philippines","122,7 123.5,8.6 125.5,9.8 126.5,7.5 125.5,5.7 124,6.5"],
        ["Philippines","117.2,8.4 119.5,11.3 119,10"],
        ["Philippines","122,11.8 125,12.5 125.5,10.3 123.5,9.2 122.5,10"],
        ["South Korea","126.3,34.5 126.5,37.7 128.3,38.6 129.5,36 129,35"],
        ["Sri Lanka","79.8,8 80.2,9.8 81.8,7.5 81,6 80,6"],
        ["Australia","114,-22 113.5,-26 115,-31.5 115,-34.3 118,-35 123.5,-34 126,-32.3 131,-31.5 134.5,-33 135.7,-34.8 137.7,-33 137.5,-35.2 139.5,-36 140.5,-38 143.5,-38.8 146.5,-39 150,-37.5 151,-33.5 153.3,-30 153.3,-26 150.8,-23 148.5,-20 146,-18.5 145.3,-15 143.5,-14 142.5,-10.8 141.6,-13 141,-17 139.5,-17.5 135.5,-15 136.8,-12.2 132.5,-11.3 129.5,-14.9 127.5,-14 124,-16.5 122.2,-18 119,-20"],
        ["Australia","144.8,-40.8 148.2,-40.8 148,-43 146,-43.5"]
      ];

      const width = 850, height = 600;
      const svg = d3.select("#chart").append("svg").attr("width", width).attr("height", height);

      // hatch for no data
      const pattern = svg.append("defs").append("pattern")
        .attr("id", "nodata").attr("patternUnits", "userSpaceOnUse")
        .attr("width", 7).attr("height", 7).attr("patternTransform", "rotate(45)");
      pattern.append("rect").attr("width", 7).attr("height", 7).attr("fill", "#fff");
      pattern.append("line").attr("x1", 0).attr("x2", 0).attr("y1", 0).attr("y2", 7)
        .attr("stroke", "#e4e4e4").attr("stroke-width", 5);

      // title
      const titleColor = "#3d3d3d", grey = "#5b5b5b";
      svg.append("text").attr("x", 16).attr("y", 38).attr("fill", titleColor)
        .style("font-family", "'Liberation Serif', serif").style("font-weight", 700).style("font-size", "24.5px")
        .attr("textLength", 664).attr("lengthAdjust", "spacingAndGlyphs")
        .text("Participation rate in formal and non-formal education and training,");
      svg.append("text").attr("x", 16).attr("y", 63).attr("fill", titleColor)
        .style("font-family", "'Liberation Serif', serif").style("font-weight", 700).style("font-size", "24.5px")
        .text("2025");
      svg.append("text").attr("x", 16).attr("y", 89).attr("fill", grey).style("font-size", "14.5px")
        .attr("textLength", 772).attr("lengthAdjust", "spacingAndGlyphs")
        .text("Share of youth and adults aged 15-64, who participated in formal and non-formal education and training in the last 12");
      svg.append("text").attr("x", 16).attr("y", 106).attr("fill", grey).style("font-size", "14.5px")
        .attr("textLength", 621).attr("lengthAdjust", "spacingAndGlyphs")
        .text("months. Non-formal education can take place both within and outside educational institutions.");

      // logo, one text with two lines
      const logo = svg.append("g").attr("transform", "translate(770,16)");
      logo.append("rect").attr("width", 63.5).attr("height", 36).attr("fill", "#002147");
      logo.append("rect").attr("y", 33.5).attr("width", 63.5).attr("height", 2.5).attr("fill", "#ce261e");
      logo.append("text").attr("text-anchor", "middle").attr("fill", "#fff")
        .style("font-size", "12.3px").style("font-weight", 700).style("letter-spacing", "-0.3px")
        .selectAll("tspan").data(["Our World", "in Data"]).join("tspan")
        .attr("x", 31.7).attr("y", (d, i) => 14.5 + i * 12)
        .text(d => d);

      // robinson through d3.geoProjection
      const plen = d3.scaleLinear().domain(robLat).range(robX);
      const pdfe = d3.scaleLinear().domain(robLat).range(robY);
      function robinsonRaw(lambda, phi) {
        const deg = Math.abs(phi) * 180 / Math.PI;
        return [0.8487 * plen(deg) * lambda, 1.3523 * pdfe(deg) * Math.sign(phi)];
      }
      const projection = d3.geoProjection(robinsonRaw).scale(156.3).translate([364, 341]);

      const color = d3.scaleThreshold().domain(binEdges).range(binColors);
      const rateByCountry = new Map(countries.map((c, i) => [c, rates[i]]));
      const line = d3.line().curve(d3.curveLinearClosed);

      function ringPath(str) {
        const pts = str.split(" ").map(p => projection(p.split(",").map(Number)));
        return line(pts);
      }

      // no data goes first so the coloured borders sit on top
      const sorted = outlines.slice().sort((a, b) => rateByCountry.has(a[0]) - rateByCountry.has(b[0]));
      svg.append("g").selectAll("path").data(sorted).join("path")
        .attr("d", d => ringPath(d[1]))
        .attr("fill", d => rateByCountry.has(d[0]) ? color(rateByCountry.get(d[0])) : "url(#nodata)")
        .attr("stroke", d => rateByCountry.has(d[0]) ? "#7f9a93" : "#dcdcdc")
        .attr("stroke-width", 0.6)
        .attr("stroke-linejoin", "round")
        .append("title").text(d => d[0]);

      // legend, bins on a linear scale
      const legendX = d3.scaleLinear().domain([0, 30]).range([253.3, 605]);
      const barTop = 537, barH = 11.4;
      const bins = d3.pairs(tickValues.concat([35]));
      const legend = svg.append("g");
      legend.selectAll("path.bin").data(bins).join("path").attr("class", "bin")
        .attr("d", (d, i) => {
          const x0 = legendX(d[0]), x1 = legendX(d[1]) - (i === 6 ? 5 : 0);
          const p = d3.path();
          p.moveTo(x0, barTop); p.lineTo(x1, barTop);
          if (i === 6) p.lineTo(x1 + 5, barTop + barH / 2);
          p.lineTo(x1, barTop + barH); p.lineTo(x0, barTop + barH); p.closePath();
          return p.toString();
        })
        .attr("fill", (d, i) => binColors[i])
        .attr("stroke", (d, i) => i === 6 ? "none" : "#9a9a9a").attr("stroke-width", 0.6);

      const axis = d3.axisTop(legendX).tickValues(tickValues).tickSize(3).tickPadding(3).tickFormat(d => d + "%");
      const axisG = legend.append("g").attr("transform", `translate(0,${barTop})`).call(axis);
      axisG.select(".domain").remove();
      axisG.selectAll("line").attr("stroke", "#999");
      axisG.selectAll("text").attr("fill", grey).style("font-size", "13.5px").style("font-family", "Lato, sans-serif");

      legend.append("rect").attr("x", 186.5).attr("y", barTop).attr("width", 47).attr("height", barH)
        .attr("fill", "url(#nodata)").attr("stroke", "#b5b5b5").attr("stroke-width", 0.6);
      legend.append("text").attr("x", 210).attr("y", 530).attr("text-anchor", "middle")
        .attr("fill", grey).style("font-size", "13.5px").text("No data");

      // footer
      const source = svg.append("text").attr("x", 16).attr("y", 581).attr("fill", grey).style("font-size", "13px");
      source.append("tspan").style("font-weight", 700).text("Data source:");
      source.append("tspan").text(" UNESCO Institute for Statistics");
      svg.append("text").attr("x", 832).attr("y", 581).attr("text-anchor", "end").attr("fill", grey).style("font-size", "13.05px")
        .text("OurWorldinData.org/global-education | CC BY");
    </script>
  </body>
</html>
